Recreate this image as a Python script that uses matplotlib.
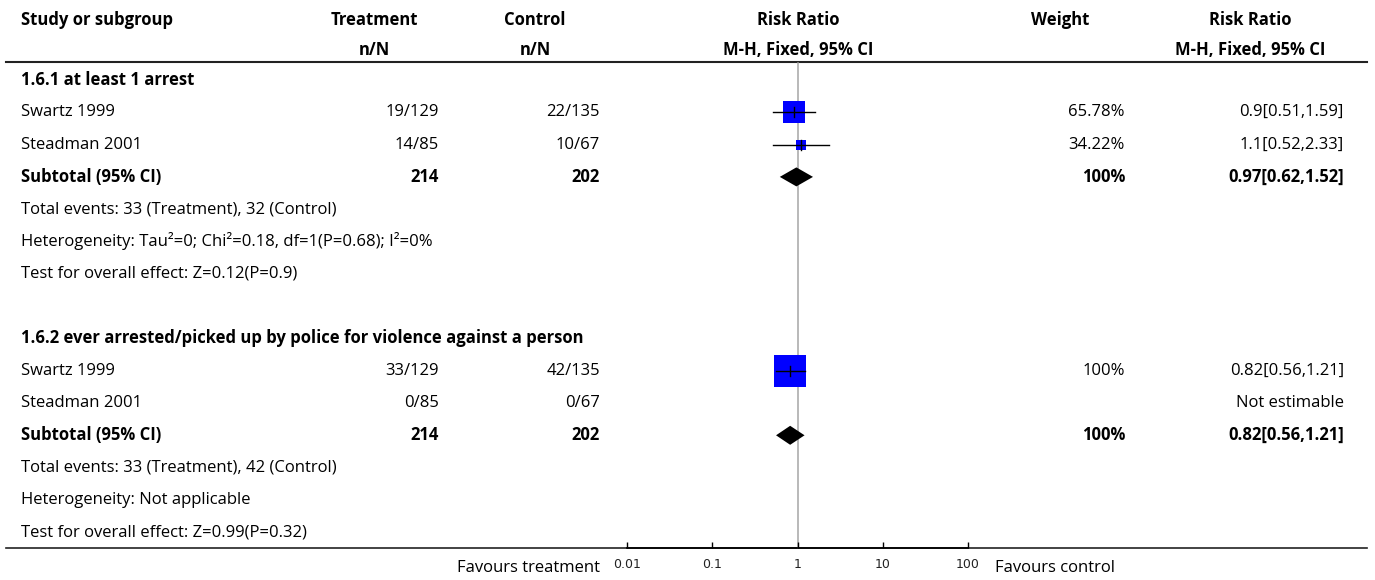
import numpy as np
import matplotlib
matplotlib.use("Agg")
import matplotlib.pyplot as plt
from matplotlib.ticker import FixedLocator, FixedFormatter, NullLocator

# ── data ───────────────────────────────────────────────────────
headers_1   = ["Study or subgroup", "Treatment", "Control", "Risk Ratio", "Weight", "Risk Ratio"]
headers_2   = ["n/N", "n/N", "M-H, Fixed, 95% CI", "M-H, Fixed, 95% CI"]

group_titles = ["1.6.1 at least 1 arrest",
                "1.6.2 ever arrested/picked up by police for violence against a person"]
studies      = ["Swartz 1999", "Steadman 2001"]

g1_treat = ["19/129", "14/85"]
g1_ctrl  = ["22/135", "10/67"]
g1_rr    = [0.90, 1.10]
g1_lo    = [0.51, 0.52]
g1_hi    = [1.59, 2.33]
g1_wt    = [65.78, 34.22]
g1_ci    = ["0.9[0.51,1.59]", "1.1[0.52,2.33]"]
g1_sub   = dict(treat="214", ctrl="202", rr=0.97, lo=0.62, hi=1.52, wt="100%", ci="0.97[0.62,1.52]")
g1_notes = ["Total events: 33 (Treatment), 32 (Control)",
            "Heterogeneity: Tau²=0; Chi²=0.18, df=1(P=0.68); I²=0%",
            "Test for overall effect: Z=0.12(P=0.9)"]

g2_treat = ["33/129", "0/85"]
g2_ctrl  = ["42/135", "0/67"]
g2_rr    = [0.82, None]
g2_lo    = [0.56, None]
g2_hi    = [1.21, None]
g2_wt    = [100.0, None]
g2_ci    = ["0.82[0.56,1.21]", "Not estimable"]
g2_sub   = dict(treat="214", ctrl="202", rr=0.82, lo=0.56, hi=1.21, wt="100%", ci="0.82[0.56,1.21]")
g2_notes = ["Total events: 33 (Treatment), 42 (Control)",
            "Heterogeneity: Not applicable",
            "Test for overall effect: Z=0.99(P=0.32)"]

axis_ticks  = [0.01, 0.1, 1, 10, 100]
axis_labels = ["0.01", "0.1", "1", "10", "100"]
favours     = ["Favours treatment", "Favours control"]

# ── layout (pixels) ────────────────────────────────────────────
W, H = 1375, 580
FONT = "Open Sans"
FS = 12
STUDY_X = 21
TREAT_HDR, TREAT_VAL = 374, 439
CTRL_HDR, CTRL_VAL = 535, 600
RR_HDR = 798
WT_HDR, WT_VAL = 1060, 1125
CI_HDR, CI_VAL = 1250, 1344
HDR1_Y, HDR2_Y, HLINE_Y = 20, 50, 62
ROW0_Y, STEP = 80, 32.3
BOTTOM_Y = 548
PLOT_L, PLOT_R = 627, 968
SQ_FULL = 32      # px side of a 100% weight square
DIAMOND_H = 9.5

fig = plt.figure(figsize=(W / 100, H / 100), dpi=100)
ax = fig.add_axes([0, 0, 1, 1])
ax.set_xlim(0, W); ax.set_ylim(H, 0); ax.axis("off")

fa = fig.add_axes([PLOT_L / W, 0, (PLOT_R - PLOT_L) / W, 1])
fa.set_xscale("log")
fa.set_xlim(axis_ticks[0], axis_ticks[-1])
fa.set_ylim(H, 0)
fa.patch.set_alpha(0)
for s in ("top", "left", "right"):
    fa.spines[s].set_visible(False)
fa.spines["bottom"].set_position(("data", BOTTOM_Y))
fa.spines["bottom"].set_linewidth(1.2)
fa.yaxis.set_visible(False)
fa.xaxis.set_major_locator(FixedLocator(axis_ticks))
fa.xaxis.set_major_formatter(FixedFormatter(axis_labels))
fa.xaxis.set_minor_locator(NullLocator())
fa.tick_params(axis="x", direction="in", length=4, width=1, pad=7,
               labelsize=9, labelcolor="#222222", labelfontfamily="DejaVu Sans")


def txt(x, y, s, ha="left", bold=False):
    ax.text(x, y, s, ha=ha, va="center", fontsize=FS, family=FONT,
            fontweight="bold" if bold else "normal", color="black")


# headers
txt(STUDY_X, HDR1_Y, headers_1[0], bold=True)
for x, s in zip([TREAT_HDR, CTRL_HDR, RR_HDR, WT_HDR, CI_HDR], headers_1[1:]):
    txt(x, HDR1_Y, s, ha="center", bold=True)
for x, s in zip([TREAT_HDR, CTRL_HDR, RR_HDR, CI_HDR], headers_2):
    txt(x, HDR2_Y, s, ha="center", bold=True)
ax.plot([6, 1367], [HLINE_Y, HLINE_Y], color="#222222", lw=1.5)
ax.plot([6, 1367], [BOTTOM_Y, BOTTOM_Y], color="#222222", lw=1.2)

# reference line at RR = 1
fa.plot([1, 1], [HLINE_Y + 1, BOTTOM_Y], color="#a6a6a6", lw=1.1, zorder=1)


def draw_group(row, title, treat, ctrl, rr, lo, hi, wt, ci, sub, notes):
    y = ROW0_Y + row * STEP
    txt(STUDY_X, y, title, bold=True)
    for i, name in enumerate(studies):
        y = ROW0_Y + (row + 1 + i) * STEP
        txt(STUDY_X, y, name)
        txt(TREAT_VAL, y, treat[i], ha="right")
        txt(CTRL_VAL, y, ctrl[i], ha="right")
        txt(CI_VAL, y, ci[i], ha="right")
        if rr[i] is None:
            continue
        txt(WT_VAL, y, f"{wt[i]:g}%", ha="right")
        side = SQ_FULL * wt[i] / 100 * 0.72
        fa.scatter([rr[i]], [y], marker="s", s=side ** 2, color="#0000ff",
                   linewidths=0, zorder=3)
        fa.plot([lo[i], hi[i]], [y, y], color="black", lw=1.0, zorder=4)
        fa.plot([rr[i], rr[i]], [y - 5, y + 5], color="black", lw=1.0, zorder=4)
    y = ROW0_Y + (row + 3) * STEP
    txt(STUDY_X, y, "Subtotal (95% CI)", bold=True)
    txt(TREAT_VAL, y, sub["treat"], ha="right", bold=True)
    txt(CTRL_VAL, y, sub["ctrl"], ha="right", bold=True)
    txt(WT_VAL, y, sub["wt"], ha="right", bold=True)
    txt(CI_VAL, y, sub["ci"], ha="right", bold=True)
    fa.fill([sub["lo"], sub["rr"], sub["hi"], sub["rr"]],
            [y, y - DIAMOND_H, y, y + DIAMOND_H], color="black", lw=0, zorder=3)
    for j, note in enumerate(notes):
        txt(STUDY_X, ROW0_Y + (row + 4 + j) * STEP, note)


draw_group(0, group_titles[0], g1_treat, g1_ctrl, g1_rr, g1_lo, g1_hi, g1_wt, g1_ci, g1_sub, g1_notes)
draw_group(8, group_titles[1], g2_treat, g2_ctrl, g2_rr, g2_lo, g2_hi, g2_wt, g2_ci, g2_sub, g2_notes)

txt(CTRL_VAL, 568, favours[0], ha="right")
txt(995, 568, favours[1])

fig.savefig("out.png", dpi=100)
plt.close(fig)
